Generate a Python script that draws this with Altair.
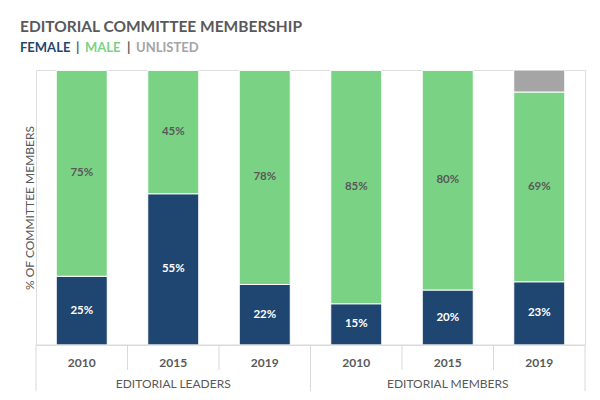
import altair as alt
import pandas as pd

# ---- data ----
groups = ["EDITORIAL LEADERS", "EDITORIAL MEMBERS"]
years = ["2010", "2015", "2019", "2010", "2015", "2019"]
bar_group = [0, 0, 0, 1, 1, 1]
female = [25, 55, 22, 15, 20, 23]
male = [75, 45, 78, 85, 80, 69]
unlisted = [0, 0, 0, 0, 0, 8]
series = ["FEMALE", "MALE", "UNLISTED"]
colors = ["#1F4670", "#7AD384", "#A5A5A5"]

TXT = "#595959"
FONT = "Lato"
W, H = 549, 275

rows = []
for i in range(len(years)):
    for k, (s, vals) in enumerate(zip(series, [female, male, unlisted])):
        rows.append({"pos": i + 0.5, "year": years[i], "series": s,
                     "value": vals[i], "ord": k})
df = pd.DataFrame(rows)

xscale = alt.Scale(domain=[0, len(years)], nice=False, zero=False, padding=0)
yscale = alt.Scale(domain=[0, 100], nice=False)

base = alt.Chart(df)

bars = base.mark_bar(size=51, stroke="white", strokeWidth=1).encode(
    x=alt.X("pos:Q", scale=xscale, axis=None),
    y=alt.Y("value:Q", stack="zero", scale=yscale,
            axis=alt.Axis(title="% OF COMMITTEE MEMBERS", labels=False, ticks=False,
                          domain=False, grid=False, titleFont=FONT, titleFontSize=12,
                          titleFontWeight="normal", titleColor=TXT, titlePadding=0)),
    color=alt.Color("series:N", scale=alt.Scale(domain=series, range=colors), legend=None),
    order=alt.Order("ord:Q"),
)

labels = base.transform_stack(
    stack="value", groupby=["pos"], as_=["y0", "y1"], sort=[alt.SortField("ord")]
).transform_filter(
    "datum.series != 'UNLISTED' && datum.value > 0"
).transform_calculate(
    mid="(datum.y0 + datum.y1) / 2", label="datum.value + '%'"
).mark_text(font=FONT, fontSize=11.5, fontWeight="bold").encode(
    x=alt.X("pos:Q", scale=xscale),
    y=alt.Y("mid:Q", scale=yscale),
    text="label:N",
    color=alt.condition("datum.series == 'FEMALE'", alt.value("white"), alt.value(TXT)),
)

# table under the bars
hline = alt.Chart(pd.DataFrame({"a": [0], "b": [len(years)]})).mark_rule(
    color="#D9D9D9", strokeWidth=1).encode(
    x=alt.X("a:Q", scale=xscale), x2="b:Q", y=alt.value(H))

year_edges = [i for i in range(1, len(years)) if bar_group[i] == bar_group[i - 1]]
group_edges = [0] + [i for i in range(1, len(years)) if bar_group[i] != bar_group[i - 1]] + [len(years)]

ysep = alt.Chart(pd.DataFrame({"e": year_edges})).mark_rule(
    color="#D9D9D9", strokeWidth=1).encode(
    x=alt.X("e:Q", scale=xscale), y=alt.value(H), y2=alt.value(H + 25))
gsep = alt.Chart(pd.DataFrame({"e": group_edges})).mark_rule(
    color="#D9D9D9", strokeWidth=1).encode(
    x=alt.X("e:Q", scale=xscale), y=alt.value(H), y2=alt.value(H + 46))

ydf = pd.DataFrame({"pos": [i + 0.5 for i in range(len(years))], "year": years})
ytext = alt.Chart(ydf).mark_text(font=FONT, fontSize=12, fontWeight="bold",
                                 color=TXT, baseline="middle").encode(
    x=alt.X("pos:Q", scale=xscale), y=alt.value(H + 18), text="year:N")

gpos = []
for g in range(len(groups)):
    idxs = [i for i in range(len(years)) if bar_group[i] == g]
    gpos.append((min(idxs) + max(idxs) + 1) / 2)
gdf = pd.DataFrame({"pos": gpos, "group": groups})
gtext = alt.Chart(gdf).mark_text(font=FONT, fontSize=12, color=TXT,
                                 baseline="middle").encode(
    x=alt.X("pos:Q", scale=xscale), y=alt.value(H + 39), text="group:N")

# title and coloured subtitle
title = alt.Chart(pd.DataFrame({"t": ["EDITORIAL COMMITTEE MEMBERSHIP"]})).mark_text(
    font=FONT, fontSize=15.5, fontWeight="bold", color=TXT, align="left",
    baseline="alphabetic").encode(x=alt.value(-16), y=alt.value(-38), text="t:N")

sub_parts = ["FEMALE", "|", "MALE", "|", "UNLISTED"]
sub_colors = [colors[0], TXT, colors[1], TXT, colors[2]]
sub_x = [-16, 40, 49, 91, 100]
subs = []
for p, c, xx in zip(sub_parts, sub_colors, sub_x):
    subs.append(alt.Chart(pd.DataFrame({"t": [p]})).mark_text(
        font=FONT, fontSize=13, fontWeight="bold", color=c, align="left",
        baseline="alphabetic").encode(x=alt.value(xx), y=alt.value(-18), text="t:N"))

chart = alt.layer(bars, labels, hline, ysep, gsep, ytext, gtext, title, *subs).properties(
    width=W, height=H,
    autosize=alt.AutoSizeParams(type="none"),
    padding={"left": 28, "top": 62, "right": 4, "bottom": 47},
).configure_view(stroke=None).configure(background="white")

chart.save("out.html", embed_options={"renderer": "svg", "actions": False})
